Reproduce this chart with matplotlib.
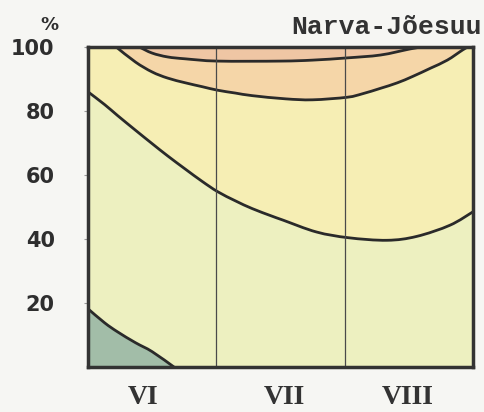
import matplotlib
matplotlib.use("Agg")
import matplotlib.pyplot as plt
from matplotlib.path import Path
from matplotlib.patches import PathPatch

# isolines (x in months from start of VI, y in %)
iso1_x = [0.40, 0.50, 0.62, 0.76, 1.01, 1.50, 1.75, 2.02, 2.28, 2.51, 2.60]
iso1_y = [100.0, 98.1, 96.9, 96.3, 95.6, 95.6, 95.9, 96.6, 97.5, 99.4, 100.0]

iso2_x = [0.22, 0.37, 0.50, 0.62, 0.76, 0.89, 1.01, 1.15, 1.28, 1.54, 1.75,
          2.02, 2.14, 2.28, 2.41, 2.53, 2.67, 2.80, 2.92, 2.96]
iso2_y = [100.0, 95.3, 92.2, 90.3, 88.8, 87.6, 86.5, 85.6, 84.8, 83.8, 83.5,
          84.3, 85.4, 87.1, 88.8, 90.8, 93.4, 95.9, 99.1, 100.0]

iso3_x = [0.0, 0.13, 0.23, 0.37, 0.50, 0.62, 0.76, 0.89, 1.01, 1.15, 1.28,
          1.43, 1.52, 1.78, 2.03, 2.33, 2.56, 2.82, 3.0]
iso3_y = [86.0, 82.0, 78.6, 74.0, 69.8, 66.0, 61.8, 58.0, 54.8, 51.9, 49.5,
          47.2, 45.9, 42.2, 40.4, 39.6, 40.8, 44.3, 48.5]

iso4_x = [0.0, 0.13, 0.23, 0.37, 0.50, 0.67]
iso4_y = [18.2, 13.8, 11.0, 7.6, 4.8, 0.0]

months = ["VI", "VII", "VIII"]
month_pos = [0.43, 1.53, 2.49]
y_ticks = [20, 40, 60, 80, 100]


def courbe(xs, ys):
    """chemin lisse (Bezier) passant par les points lus"""
    pts = list(zip(xs, ys))
    verts = [pts[0]]
    codes = [Path.MOVETO]
    n = len(pts)
    for i in range(n - 1):
        p0 = pts[max(i - 1, 0)]
        p1 = pts[i]
        p2 = pts[i + 1]
        p3 = pts[min(i + 2, n - 1)]
        c1 = (p1[0] + (p2[0] - p0[0]) / 6, p1[1] + (p2[1] - p0[1]) / 6)
        c2 = (p2[0] - (p3[0] - p1[0]) / 6, p2[1] - (p3[1] - p1[1]) / 6)
        verts += [c1, c2, p2]
        codes += [Path.CURVE4] * 3
    return verts, codes


def zone(xs, ys, fermeture, couleur):
    verts, codes = courbe(xs, ys)
    for p in fermeture:
        verts.append(p)
        codes.append(Path.LINETO)
    verts.append(verts[0])
    codes.append(Path.CLOSEPOLY)
    ax.add_patch(PathPatch(Path(verts, codes), facecolor=couleur, lw=0))


fig = plt.figure(figsize=(4.85, 4.12), dpi=100)
fig.patch.set_facecolor("#f6f6f3")
ax = fig.add_axes([0.1814, 0.1092, 0.7938, 0.7767])
ax.set_facecolor("#edf0c0")

# zones de couleur
zone(iso3_x, iso3_y, [(3, 100), (0, 100)], "#f6eeb4")
zone(iso2_x, iso2_y, [], "#f5d6a8")
zone(iso1_x, iso1_y, [], "#efc6a4")
zone(iso4_x, iso4_y, [(0, 0)], "#a2bda8")

for xs, ys in [(iso1_x, iso1_y), (iso2_x, iso2_y), (iso3_x, iso3_y), (iso4_x, iso4_y)]:
    verts, codes = courbe(xs, ys)
    ax.add_patch(PathPatch(Path(verts, codes), facecolor="none",
                           edgecolor="#2a2a2a", lw=2.0, capstyle="round"))

for xv in [1, 2]:
    ax.axvline(xv, color="#4a4a4a", lw=0.9)

ax.set_xlim(0, 3)
ax.set_ylim(0, 100)
for sp in ax.spines.values():
    sp.set_linewidth(2.5)
    sp.set_color("#333333")
    sp.set_zorder(5)

ax.set_yticks(y_ticks)
ax.set_yticklabels([str(v) for v in y_ticks], fontsize=15, fontweight="bold",
                   color="#2e2e2e", family="DejaVu Sans")
ax.tick_params(axis="y", length=3, width=0.8, color="#999999", pad=21)
ax.set_xticks(month_pos)
ax.set_xticklabels(months, fontsize=20, fontweight="bold", color="#333333",
                   family="Liberation Serif")
ax.tick_params(axis="x", length=0, pad=13)

ax.text(-0.099, 1.068, "%", transform=ax.transAxes, ha="center", va="center",
        fontsize=13, fontweight="bold", color="#2e2e2e")
ax.text(1.023, 1.062, "Narva-Jõesuu", transform=ax.transAxes, ha="right",
        va="center", fontsize=19, fontweight="bold", color="#333333",
        family="Liberation Mono")

fig.savefig("out.png", dpi=100, facecolor=fig.get_facecolor())
